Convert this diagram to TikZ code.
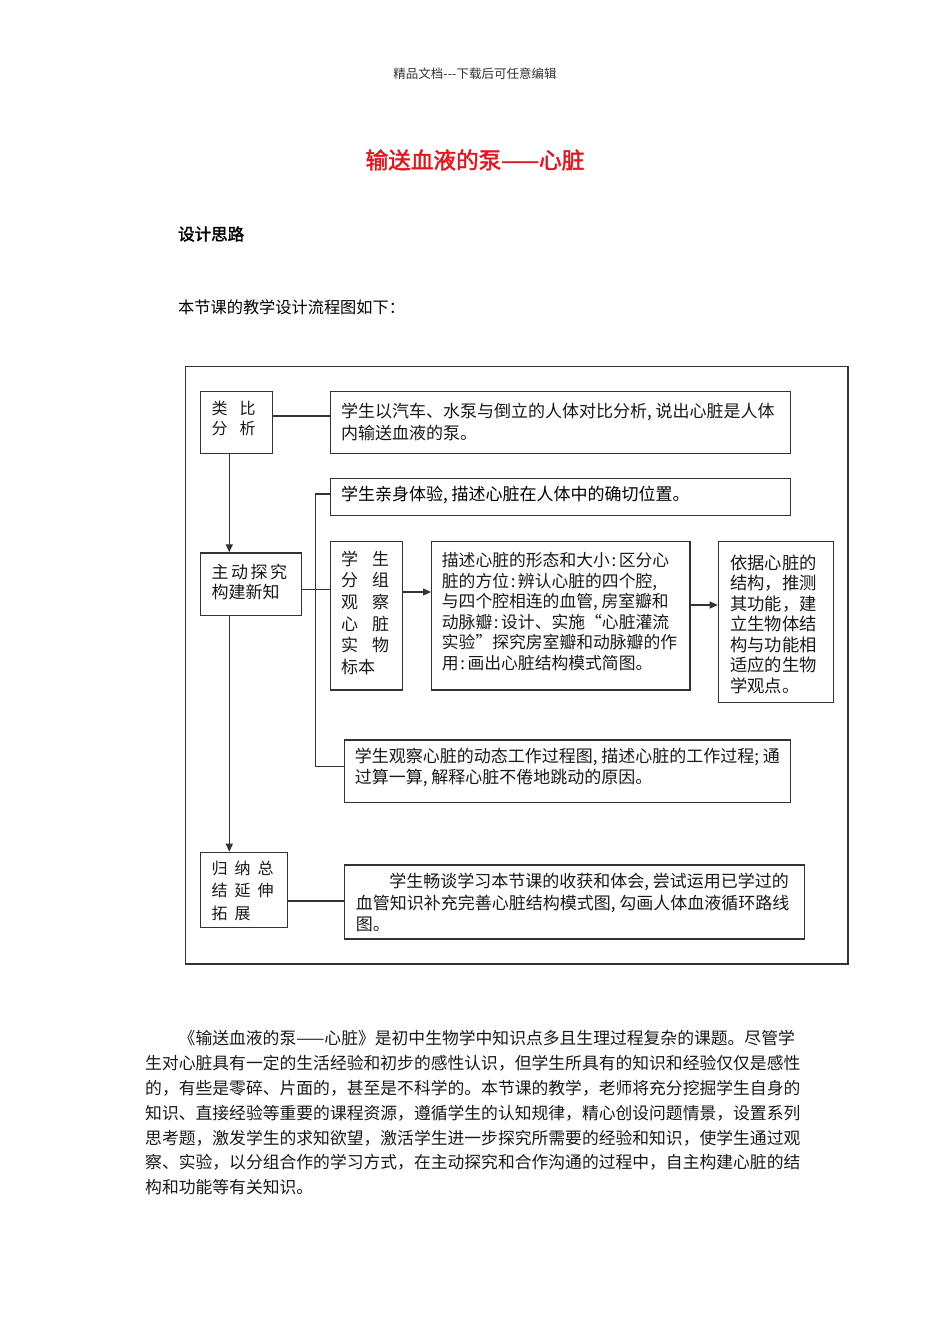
\documentclass[tikz,border=0pt]{standalone}
\usepackage{fontspec}
\setmainfont{Noto Sans CJK SC}
\newfontfamily\cjkb{Noto Sans CJK SC}[FakeBold=2]
\usetikzlibrary{arrows.meta}
\definecolor{ln}{HTML}{333333}
\definecolor{ttlred}{HTML}{E8141B}
\begin{document}
\begin{tikzpicture}[x=1pt,y=-1pt,
  box/.style={draw=ln, line width=1.2pt, anchor=north west, inner sep=0pt},
  txt/.style={anchor=north west, inner sep=0pt, align=left, text=black!90},
  dtext/.style={txt, font=\fontsize{17}{21}\selectfont},
  conn/.style={draw=ln, line width=1.2pt},
  arr/.style={conn, -{Triangle[length=8pt,width=7pt]}}
]
\useasboundingbox[fill=white] (0,0) rectangle (950,1344);

% page texts
\node[font=\fontsize{12.5}{14}\selectfont, text=black!80] (hdr) at (475,74) {精品文档-{}-{}-下载后可任意编辑};
\node[text=ttlred, font=\cjkb\fontsize{22.6}{26}\selectfont] (title) at (475,160) {输送血液的泵——心脏};
\node[anchor=west, inner sep=0pt, font=\cjkb\fontsize{16.5}{20}\selectfont] (head) at (178,234) {设计思路};
\node[anchor=west, inner sep=0pt, font=\fontsize{16.2}{20}\selectfont] (intro) at (178,307) {本节课的教学设计流程图如下：};

% frame
\node[box, minimum width=662.3pt, minimum height=597.8pt] (frame) at (185,365.5) {};

% boxes
\node[box, minimum width=72pt, minimum height=62pt] (lb) at (200,391) {};
\node[box, minimum width=460pt, minimum height=62pt] (a1) at (330,391) {};
\node[box, minimum width=460pt, minimum height=37.5pt] (a2) at (330,477.5) {};
\node[box, minimum width=101pt, minimum height=62.7pt] (zd) at (200,552.3) {};
\node[box, minimum width=72pt, minimum height=148.6pt] (xs) at (329.5,540.7) {};
\node[box, minimum width=258.3pt, minimum height=148.6pt] (ms) at (431,540.7) {};
\node[box, minimum width=115pt, minimum height=161pt] (yj) at (717.7,540.7) {};
\node[box, minimum width=446pt, minimum height=62.4pt] (bb) at (344,739.3) {};
\node[box, minimum width=86.7pt, minimum height=75pt] (gn) at (200,851.7) {};
\node[box, minimum width=460pt, minimum height=74pt] (cc) at (344,864.3) {};

% box texts
\node[txt, font=\fontsize{16}{20}\selectfont] (tlb) at (211.5,400.8) {类\kern12pt比\\分\kern12pt析};
\node[dtext, font=\fontsize{17}{22}\selectfont] (ta1) at (341,402.4) {学生以汽车、水泵与倒立的人体对比分析, 说出心脏是人体\\内输送血液的泵。};
\node[anchor=west, inner sep=0pt, font=\fontsize{17}{21}\selectfont] (ta2) at (341,495) {学生亲身体验, 描述心脏在人体中的确切位置。};
\node[dtext, font=\fontsize{17}{20.5}\selectfont] (tzd) at (211.5,563.5) {主\kern2.5pt动\kern2.5pt探\kern2.5pt究\\构建新知};
\node[dtext, font=\fontsize{17}{21.7}\selectfont] (txs) at (341,550.4) {学\kern14pt生\\分\kern14pt组\\观\kern14pt察\\心\kern14pt脏\\实\kern14pt物\\标本};
\node[dtext, font=\fontsize{16.8}{20.5}\selectfont] (tms) at (441.7,552.4) {描述心脏的形态和大小\kern.1em:\kern.15em区分心\\脏的方位\kern.1em:\kern.15em辨认心脏的四个腔,\\与四个腔相连的血管, 房室瓣和\\动脉瓣\kern.1em:\kern.15em设计、实施“心脏灌流\\实验”探究房室瓣和动脉瓣的作\\用\kern.1em:\kern.15em画出心脏结构模式简图。};
\node[dtext, font=\fontsize{17.3}{20.5}\selectfont] (tyj) at (730,554.4) {依据心脏的\\结构，推测\\其功能，建\\立生物体结\\构与功能相\\适应的生物\\学观点。};
\node[dtext, font=\fontsize{17}{21.7}\selectfont] (tbb) at (354.7,747.4) {学生观察心脏的动态工作过程图, 描述心脏的工作过程; 通\\过算一算, 解释心脏不倦地跳动的原因。};
\node[txt, font=\fontsize{16}{22.5}\selectfont] (tgn) at (211.5,860.4) {归\kern7pt纳\kern7pt总\\结\kern7pt延\kern7pt伸\\拓\kern7pt展};
\node[dtext, font=\fontsize{17}{21.5}\selectfont] (tcc) at (355.7,873) {\hspace*{33.5pt}学生畅谈学习本节课的收获和体会, 尝试运用已学过的\\血管知识补充完善心脏结构模式图, 勾画人体血液循环路线\\图。};

% connectors
\coordinate (X1) at (229.3,0);
\coordinate (X2) at (315.3,0);
\coordinate (Y1) at (0,416);
\coordinate (Ya) at (0,494);
\coordinate (Yb) at (0,766.7);
\coordinate (Y3) at (0,589.3);
\coordinate (Y4) at (0,592);
\coordinate (Y5) at (0,605);
\coordinate (Y6) at (0,901);
\coordinate (k1) at (X2 |- Ya);
\coordinate (k2) at (X2 |- Yb);
\draw[conn] (lb.east |- Y1) -- (a1.west |- Y1);
\draw[arr] (lb.south -| X1) -- (zd.north -| X1);
\draw[arr] (zd.south -| X1) -- (gn.north -| X1);
\draw[conn] (a2.west |- Ya) -- (k1) -- (k2) -- (bb.west |- Yb);
\draw[conn] (zd.east |- Y3) -- (xs.west |- Y3);
\draw[arr] (xs.east |- Y4) -- (ms.west |- Y4);
\draw[arr] (ms.east |- Y5) -- (yj.west |- Y5);
\draw[conn] (gn.east |- Y6) -- (cc.west |- Y6);

% paragraph
\node[txt, font=\fontsize{16.8}{24.8}\selectfont] (para) at (145,1030.5) {\hspace*{33.5pt}《输送血液的泵——心脏》是初中生物学中知识点多且生理过程复杂的课题。尽管学\\生对心脏具有一定的生活经验和初步的感性认识，但学生所具有的知识和经验仅仅是感性\\的，有些是零碎、片面的，甚至是不科学的。本节课的教学，老师将充分挖掘学生自身的\\知识、直接经验等重要的课程资源，遵循学生的认知规律，精心创设问题情景，设置系列\\思考题，激发学生的求知欲望，激活学生进一步探究所需要的经验和知识，使学生通过观\\察、实验，以分组合作的学习方式，在主动探究和合作沟通的过程中，自主构建心脏的结\\构和功能等有关知识。};
\end{tikzpicture}
\end{document}
